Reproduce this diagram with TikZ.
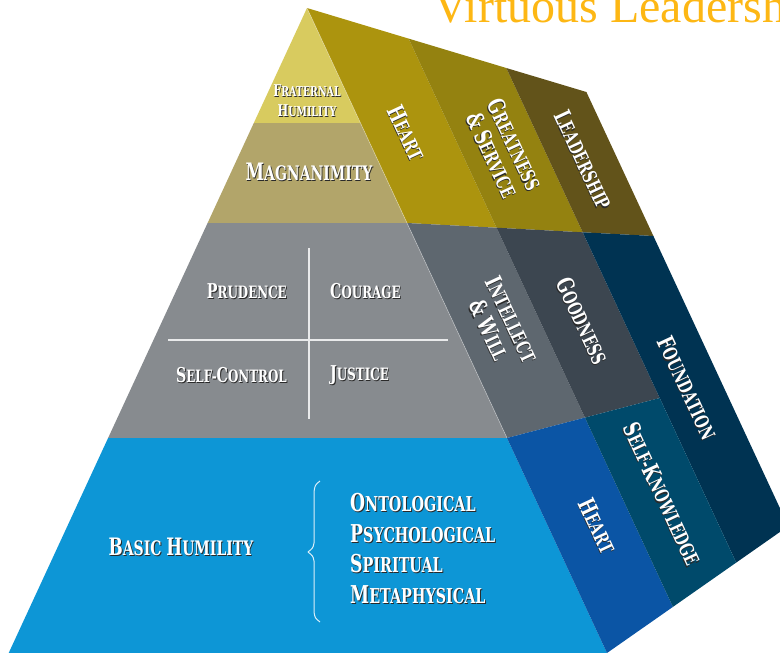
\documentclass[tikz,border=0pt]{standalone}
\usepackage{fontspec}
\usepackage{graphicx}
\newfontfamily\lab{DejaVu Serif}[FakeStretch=0.7]
\newfontfamily\ttl{Liberation Serif}
\definecolor{cFr}{HTML}{D8CB5F}
\definecolor{cMag}{HTML}{B2A56A}
\definecolor{cGray}{HTML}{878B8F}
\definecolor{cBlue}{HTML}{0D96D6}
\definecolor{cHeartG}{HTML}{AC940E}
\definecolor{cGreat}{HTML}{948210}
\definecolor{cLead}{HTML}{62531A}
\definecolor{cInt}{HTML}{5E676F}
\definecolor{cGood}{HTML}{3C4650}
\definecolor{cFound}{HTML}{003352}
\definecolor{cHeartB}{HTML}{0B55A5}
\definecolor{cSelf}{HTML}{004A6B}
\definecolor{cTitle}{HTML}{FDB714}
\definecolor{shad}{HTML}{2A2A2A}
\newcommand\Sc[2]{\scalebox{1.2}{#1}#2}
\newcommand\Sh[1]{\leavevmode\rlap{\kern0.9pt\raisebox{-0.9pt}{\color{shad}#1}}#1}
\tikzset{
  lbl/.style 2 args={text=white, inner sep=0pt, font=\lab\bfseries\fontsize{#1}{#2}\selectfont},
  rot/.style={rotate=-65, align=center},
  crossline/.style={draw=white!82!cGray, line width=1.3pt},
  bracel/.style={draw=white!85!cBlue, line width=1pt, line join=round},
}
\begin{document}
\begin{tikzpicture}[x=1pt,y=-1pt]
\useasboundingbox (0,0) rectangle (780,653);
\clip (0,0) rectangle (780,653);
% corner points
\coordinate (A) at (307,8);
\coordinate (L1) at (253.8,123); \coordinate (R1) at (360.5,123);
\coordinate (L2) at (207.6,223); \coordinate (R2) at (407,223);
\coordinate (L3) at (108.1,438); \coordinate (R3) at (507,438);
\coordinate (L4) at (8.7,653);   \coordinate (R4) at (607,653);
\coordinate (T1) at (408.6,38.6); \coordinate (T2) at (506.3,68); \coordinate (T3) at (586.4,92);
\coordinate (M1) at (496.5,227.7); \coordinate (M2) at (582.7,232.3); \coordinate (M3) at (653.4,236);
\coordinate (N1) at (584.9,417.6); \coordinate (N2) at (659.7,398);
\coordinate (B1) at (672.9,606.9); \coordinate (B2) at (736.2,562.6); \coordinate (B3) at (788.3,526.1);
% front face
\fill[cFr] (A) -- (R1) -- (L1) -- cycle;
\fill[cMag] (L1) -- (R1) -- (R2) -- (L2) -- cycle;
\fill[cGray] (L2) -- (R2) -- (R3) -- (L3) -- cycle;
\fill[cBlue] (L3) -- (R3) -- (R4) -- (L4) -- cycle;
% right face
\fill[cHeartG] (A) -- (T1) -- (M1) -- (R2) -- cycle;
\fill[cGreat] (T1) -- (T2) -- (M2) -- (M1) -- cycle;
\fill[cLead] (T2) -- (T3) -- (M3) -- (M2) -- cycle;
\fill[cInt] (R2) -- (M1) -- (N1) -- (R3) -- cycle;
\fill[cGood] (M1) -- (M2) -- (N2) -- (N1) -- cycle;
\fill[cFound] (M2) -- (M3) -- (B3) -- (B2) -- (N2) -- cycle;
\fill[cHeartB] (R3) -- (N1) -- (B1) -- (R4) -- cycle;
\fill[cSelf] (N1) -- (N2) -- (B2) -- (B1) -- cycle;
\draw[white, opacity=.45, line width=.6pt] (A) -- (R3);
% cross
\coordinate (vt) at (309,248); \coordinate (vb) at (309,419);
\coordinate (hl) at (168,340); \coordinate (hr) at (448,340);
\draw[crossline] (vt) -- (vb);
\draw[crossline] (hl) -- (hr);
% brace
\draw[bracel] (320,481) .. controls (315,485) .. (314,492) -- (314,543) .. controls (313,548) .. (308,552)
  .. controls (313,556) .. (314,561) -- (314,612) .. controls (315,618) .. (320,622);
% title
\node[anchor=base west, inner sep=0pt, text=cTitle, font=\ttl\fontsize{48}{52}\selectfont] (title) at (433,22) {Virtuous Leadership};
% front labels
\node[lbl={13.5}{20}, align=center] (fraternal) at (307,101) {\Sh{\Sc{F}{RATERNAL}}\\\Sh{\Sc{H}{UMILITY}}};
\node[lbl={20}{24}] (magn) at (309,172) {\Sh{\Sc{M}{AGNANIMITY}}};
\node[lbl={17}{20}, anchor=east] (prud) at (287,292) {\Sh{\Sc{P}{RUDENCE}}};
\node[lbl={17}{20}, anchor=west] (cour) at (330,292) {\Sh{\Sc{C}{OURAGE}}};
\node[lbl={17}{20}, anchor=east] (selfc) at (287,376) {\Sh{\Sc{S}{ELF-}\Sc{C}{ONTROL}}};
\node[lbl={17}{20}, anchor=west] (just) at (330,376) {\Sh{\Sc{J}{USTICE}}};
\node[lbl={20}{24}] (basic) at (181,547) {\Sh{\Sc{B}{ASIC} \Sc{H}{UMILITY}}};
\node[lbl={20.5}{30.5}, anchor=west, align=left] (kinds) at (350,549) {\Sh{\Sc{O}{NTOLOGICAL}}\\\Sh{\Sc{P}{SYCHOLOGICAL}}\\\Sh{\Sc{S}{PIRITUAL}}\\\Sh{\Sc{M}{ETAPHYSICAL}}};
% right face labels
\node[lbl={19.5}{25}, rot] (heartg) at (406,133) {\Sh{\Sc{H}{EART}}};
\node[lbl={19.5}{25}, rot] (great) at (503,150) {\Sh{\Sc{G}{REATNESS}}\\\Sh{\Sc{\&}{} \Sc{S}{ERVICE}}};
\node[lbl={19.5}{25}, rot] (lead) at (583,160) {\Sh{\Sc{L}{EADERSHIP}}};
\node[lbl={19.5}{25}, rot] (intel) at (500,325) {\Sh{\Sc{I}{NTELLECT}}\\\Sh{\Sc{\&}{} \Sc{W}{ILL}}};
\node[lbl={19.5}{25}, rot] (good) at (582,321) {\Sh{\Sc{G}{OODNESS}}};
\node[lbl={19.5}{25}, rot] (found) at (687,388) {\Sh{\Sc{F}{OUNDATION}}};
\node[lbl={19.5}{25}, rot] (heartb) at (597,526) {\Sh{\Sc{H}{EART}}};
\node[lbl={19.5}{25}, rot] (selfk) at (662,494) {\Sh{\Sc{S}{ELF-}\Sc{K}{NOWLEDGE}}};
\end{tikzpicture}
\end{document}
